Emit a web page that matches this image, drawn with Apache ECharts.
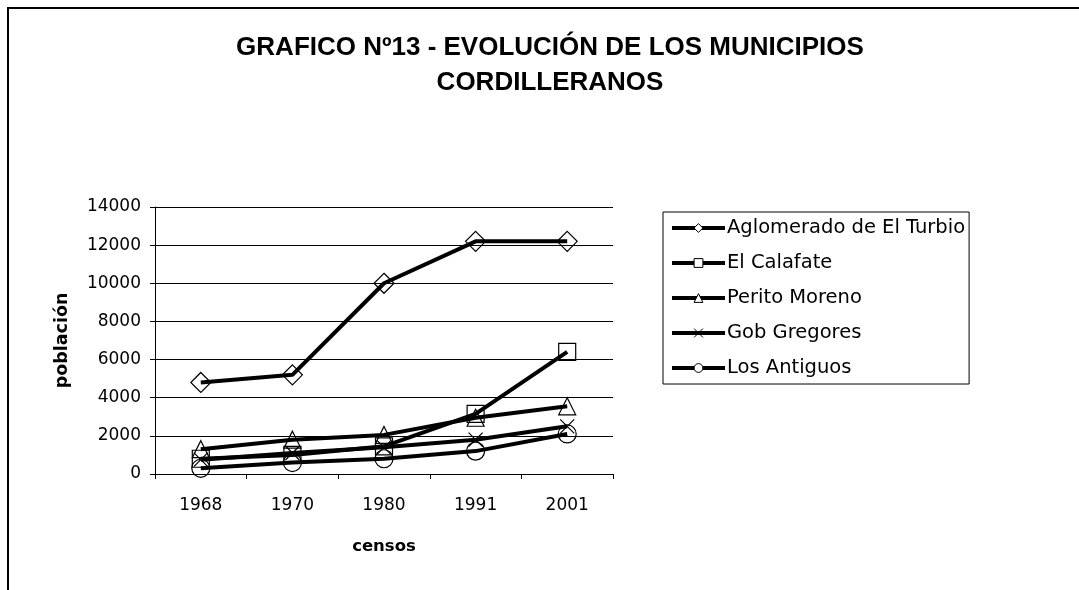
<!DOCTYPE html>
<html>
<head>
<meta charset="utf-8">
<script src="https://cdn.jsdelivr.net/npm/echarts@6/dist/echarts.min.js"></script>
<style>
html,body{margin:0;padding:0;background:#fff;}
#chart{width:1079px;height:590px;}
</style>
</head>
<body>
<div id="chart"></div>
<script>
const categories = ['1968', '1970', '1980', '1991', '2001'];
const seriesNames = ['Aglomerado de El Turbio', 'El Calafate', 'Perito Moreno', 'Gob Gregores', 'Los Antiguos'];
const turbio = [4800, 5200, 10000, 12200, 12200];
const calafate = [800, 1000, 1450, 3150, 6400];
const perito = [1300, 1800, 2050, 2950, 3550];
const gregores = [750, 1100, 1400, 1800, 2500];
const antiguos = [300, 600, 800, 1200, 2100];
const yTicks = [0, 2000, 4000, 6000, 8000, 10000, 12000, 14000];

const symbols = ['diamond', 'rect', 'triangle', 'path://M0,0L10,10M0,10L10,0', 'circle'];
const symbolSizes = [20, 17, 17, 14, 18];
const values = [turbio, calafate, perito, gregores, antiguos];

const chart = echarts.init(document.getElementById('chart'), null, {renderer: 'canvas'});
const tickFont = 'DejaVu Sans';

chart.setOption({
  animation: false,
  backgroundColor: '#fff',
  title: {
    text: 'GRAFICO Nº13 - EVOLUCIÓN DE LOS MUNICIPIOS\nCORDILLERANOS',
    left: 545,
    top: 25,
    textAlign: 'center',
    textStyle: {fontFamily: 'Liberation Sans', fontWeight: 'bold', fontSize: 26, lineHeight: 35, color: '#000'}
  },
  graphic: [{
    type: 'rect',
    shape: {x: 8, y: 8, width: 1200, height: 1000},
    style: {fill: 'none', stroke: '#000', lineWidth: 2},
    silent: true
  }],
  legend: {
    orient: 'vertical',
    left: 663,
    top: 212,
    padding: [6, 4, 6, 7],
    itemGap: 15,
    itemWidth: 53,
    itemHeight: 11,
    borderColor: '#000',
    borderWidth: 1,
    data: seriesNames,
    lineStyle: {width: 4, color: '#000'},
    itemStyle: {color: '#fff', borderColor: '#000', borderWidth: 1},
    textStyle: {fontFamily: tickFont, fontSize: 19.5, color: '#000', lineHeight: 20, padding: [0, 0, 0, -3]}
  },
  grid: {left: 155, top: 207, width: 458, height: 267, containLabel: false},
  xAxis: {
    type: 'category',
    data: categories,
    boundaryGap: true,
    name: 'censos',
    nameLocation: 'middle',
    nameGap: 64,
    nameTextStyle: {fontFamily: tickFont, fontWeight: 'bold', fontSize: 16.5, color: '#000'},
    axisLine: {lineStyle: {color: '#000', width: 1}},
    axisTick: {show: true, length: 5, lineStyle: {color: '#000'}},
    axisLabel: {fontFamily: tickFont, fontSize: 17, color: '#000', margin: 23},
    splitLine: {show: false}
  },
  yAxis: {
    type: 'value',
    min: yTicks[0],
    max: yTicks[yTicks.length - 1],
    interval: 2000,
    name: 'población',
    nameLocation: 'middle',
    nameRotate: 90,
    nameGap: 84,
    nameTextStyle: {fontFamily: tickFont, fontWeight: 'bold', fontSize: 17.5, color: '#000'},
    axisLine: {show: true, lineStyle: {color: '#000', width: 1}},
    axisTick: {show: true, length: 5, lineStyle: {color: '#000'}},
    axisLabel: {fontFamily: tickFont, fontSize: 17, color: '#000', margin: 14, formatter: v => String(v)},
    splitLine: {show: true, lineStyle: {color: '#000', width: 1}}
  },
  series: seriesNames.map((name, i) => ({
    name: name,
    type: 'line',
    data: values[i],
    symbol: symbols[i],
    symbolSize: symbolSizes[i],
    showAllSymbol: true,
    lineStyle: {color: '#000', width: 4},
    itemStyle: {color: 'rgba(255,255,255,0)', borderColor: '#000', borderWidth: 1.2},
    emphasis: {disabled: true}
  }))
});
</script>
</body>
</html>
